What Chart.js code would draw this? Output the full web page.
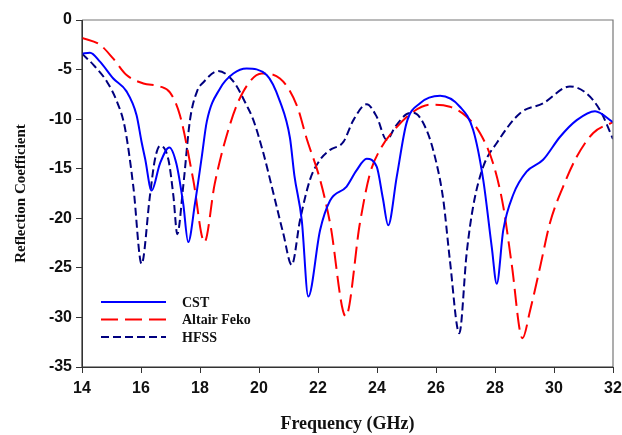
<!DOCTYPE html>
<html>
<head>
<meta charset="utf-8">
<script src="https://cdn.jsdelivr.net/npm/chart.js@4/dist/chart.umd.min.js"></script>
<style>
  body { margin: 0; background: #fff; }
  #wrap { width: 622px; height: 435px; position: relative; }
</style>
</head>
<body>
<div id="wrap"><canvas id="chart"></canvas></div>
<script>
// values
const xTicks = [14, 16, 18, 20, 22, 24, 26, 28, 30, 32];
const yTicks = [0, -5, -10, -15, -20, -25, -30, -35];

const cstFreq = [14, 14.27, 14.61, 15.06, 15.51, 15.85, 16.02, 16.14, 16.36, 16.64, 16.96, 17.2, 17.43, 17.6, 17.83, 18.06, 18.23, 18.68, 19.13, 19.58, 20.26, 20.71, 21.05, 21.2, 21.45, 21.67, 22.07, 22.41, 22.97, 23.3, 23.65, 23.99, 24.2, 24.38, 24.67, 25.0, 25.46, 26.14, 26.81, 27.26, 27.6, 27.89, 28.06, 28.28, 28.62, 29.07, 29.63, 30.2, 30.77, 31.39, 32];
const cstVals = [-3.4, -3.3, -4.2, -5.9, -7.2, -9.6, -12.3, -14.0, -17.2, -14.5, -12.85, -14.5, -18.5, -22.4, -18.5, -13.8, -10.25, -6.9, -5.4, -4.9, -5.55, -8.2, -11.9, -15.7, -20.2, -27.9, -21.2, -18.2, -16.8, -15.2, -14.0, -14.8, -18.0, -20.7, -15.8, -10.4, -8.4, -7.65, -8.75, -11.1, -16.1, -22.9, -26.6, -21.2, -17.6, -15.3, -14.1, -11.8, -10.1, -9.2, -10.3];

const fekoFreq = [14, 14.61, 15.06, 15.51, 16.08, 16.64, 16.98, 17.32, 17.77, 18.15, 18.5, 19.02, 19.47, 20.09, 20.71, 21.28, 21.62, 22.07, 22.41, 22.94, 23.42, 23.76, 24.1, 24.67, 25.23, 25.8, 26.47, 27.04, 27.49, 27.94, 28.28, 28.56, 28.93, 29.19, 29.53, 29.86, 30.31, 30.77, 31.33, 32];
const fekoVals = [-1.8, -2.5, -3.9, -5.55, -6.4, -6.7, -7.3, -9.6, -16.1, -22.4, -16.5, -10.5, -7.2, -5.4, -5.9, -8.6, -12.0, -16.1, -20.5, -29.9, -20.5, -15.5, -13.1, -10.8, -9.25, -8.55, -8.75, -9.75, -11.4, -14.5, -18.8, -24.5, -32.1, -29.3, -24.9, -20.5, -16.8, -13.8, -11.4, -10.3];

const hfssFreq = [14, 14.38, 14.84, 15.18, 15.45, 15.74, 16.02, 16.3, 16.47, 16.65, 16.93, 17.1, 17.23, 17.43, 17.66, 17.9, 18.11, 18.62, 19.13, 19.58, 19.81, 20.15, 20.49, 20.82, 21.11, 21.39, 21.73, 22.07, 22.41, 22.86, 23.2, 23.65, 23.99, 24.33, 24.61, 25.0, 25.23, 25.68, 26.02, 26.25, 26.47, 26.79, 27.04, 27.26, 27.6, 28.06, 28.85, 29.63, 30.54, 31.1, 31.56, 32];
const hfssVals = [-3.4, -4.5, -6.2, -8.2, -10.8, -16.8, -24.6, -17.8, -14.1, -12.7, -14.1, -17.8, -21.6, -16.8, -10.1, -7.2, -6.3, -5.15, -6.2, -8.6, -10.1, -13.45, -17.5, -21.5, -24.7, -20.2, -16.1, -14.1, -13.1, -12.3, -10.1, -8.5, -9.75, -12.1, -10.8, -9.5, -9.35, -11.1, -14.5, -18.2, -24.2, -31.6, -23.5, -18.8, -14.8, -12.4, -9.4, -8.4, -6.7, -7.4, -9.1, -12.0];

const seriesNames = ["CST", "Altair Feko", "HFSS"];

const toPoints = (xs, ys) => xs.map((x, i) => ({ x: x, y: ys[i] }));

// legend drawn inside the plot, lower left, as in the original
const lineLegend = {
  id: "lineLegend",
  afterDatasetsDraw(chart) {
    const ctx = chart.ctx;
    const rows = [302, 319.5, 337];
    ctx.save();
    chart.data.datasets.forEach((ds, i) => {
      ctx.beginPath();
      ctx.setLineDash(ds.borderDash || []);
      ctx.strokeStyle = ds.borderColor;
      ctx.lineWidth = ds.borderWidth;
      ctx.moveTo(101, rows[i]);
      ctx.lineTo(166, rows[i]);
      ctx.stroke();
      ctx.setLineDash([]);
      ctx.fillStyle = "#111";
      ctx.font = "bold 14px 'Liberation Serif', 'Times New Roman', serif";
      ctx.textBaseline = "middle";
      ctx.fillText(ds.label, 182, rows[i] + 1);
    });
    ctx.restore();
  }
};

const frameBox = {
  id: "frameBox",
  afterDraw(chart) {
    const { left, top, right, bottom } = chart.chartArea;
    const ctx = chart.ctx;
    ctx.save();
    ctx.strokeStyle = "#777";
    ctx.lineWidth = 1.2;
    ctx.beginPath();
    ctx.moveTo(left, top);
    ctx.lineTo(right, top);
    ctx.lineTo(right, bottom);
    ctx.stroke();
    ctx.strokeStyle = "#333";
    ctx.beginPath();
    ctx.moveTo(left, top);
    ctx.lineTo(left, bottom);
    ctx.lineTo(right, bottom);
    ctx.stroke();
    ctx.restore();
  }
};

const tickFont = { family: "'Liberation Sans', Arial, sans-serif", size: 16, weight: "bold" };
const titleFont = { family: "'Liberation Serif', 'Times New Roman', serif", weight: "bold" };

new Chart(document.getElementById("chart"), {
  type: "line",
  data: {
    datasets: [
      {
        label: seriesNames[0],
        data: toPoints(cstFreq, cstVals),
        borderColor: "#0000FF",
        borderWidth: 2,
        pointRadius: 0,
        cubicInterpolationMode: "monotone"
      },
      {
        label: seriesNames[1],
        data: toPoints(fekoFreq, fekoVals),
        borderColor: "#FF0000",
        borderWidth: 2,
        borderDash: [17, 7],
        pointRadius: 0,
        cubicInterpolationMode: "monotone"
      },
      {
        label: seriesNames[2],
        data: toPoints(hfssFreq, hfssVals),
        borderColor: "#00007F",
        borderWidth: 2,
        borderDash: [8, 4],
        pointRadius: 0,
        cubicInterpolationMode: "monotone"
      }
    ]
  },
  options: {
    responsive: true,
    maintainAspectRatio: false,
    animation: false,
    layout: { padding: { top: 20, right: 9, left: 0, bottom: 0 } },
    plugins: {
      legend: { display: false },
      tooltip: { enabled: false }
    },
    scales: {
      x: {
        type: "linear",
        min: 14,
        max: 32,
        afterFit: scale => {
          scale.height = 68;
          scale.paddingLeft = 0;
          scale.paddingRight = 0;
        },
        afterBuildTicks: scale => { scale.ticks = xTicks.map(v => ({ value: v })); },
        grid: { drawOnChartArea: false, tickLength: 6, color: "#333" },
        border: { color: "#333" },
        ticks: { color: "#111", font: tickFont, padding: 6, maxRotation: 0 },
        title: {
          display: true,
          text: "Frequency (GHz)",
          color: "#111",
          font: { ...titleFont, size: 18 },
          padding: { top: 3, bottom: 0 }
        }
      },
      y: {
        min: -35,
        max: 0,
        afterFit: scale => {
          scale.width = 82;
          scale.paddingTop = 0;
          scale.paddingBottom = 0;
        },
        afterBuildTicks: scale => { scale.ticks = yTicks.map(v => ({ value: v })); },
        grid: { drawOnChartArea: false, tickLength: 6, color: "#333" },
        border: { color: "#333" },
        ticks: { color: "#111", font: tickFont, padding: 4 },
        title: {
          display: true,
          text: "Reflection Coefficient",
          color: "#111",
          font: { ...titleFont, size: 15 },
          padding: { top: 12, bottom: 0 }
        }
      }
    }
  },
  plugins: [lineLegend, frameBox]
});
</script>
</body>
</html>
